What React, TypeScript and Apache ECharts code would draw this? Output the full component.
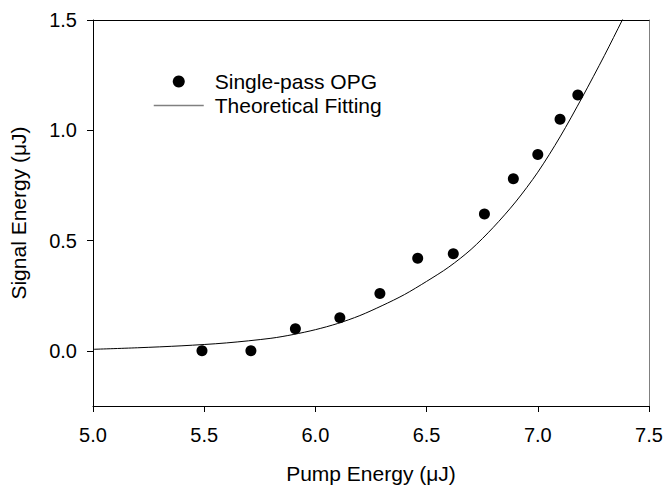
import React, { useEffect, useRef } from "react";
import * as echarts from "echarts";

const pumpEnergy = [5.49, 5.71, 5.91, 6.11, 6.29, 6.46, 6.62, 6.76, 6.89, 7.0, 7.1, 7.18];
const signalEnergy = [0.0, 0.0, 0.1, 0.15, 0.26, 0.42, 0.44, 0.62, 0.78, 0.89, 1.05, 1.16];

const fitX = [5.0, 5.2, 5.4, 5.6, 5.8, 5.9, 6.0, 6.1, 6.2, 6.3, 6.4, 6.5, 6.6, 6.7, 6.8, 6.9, 7.0, 7.1, 7.2, 7.3, 7.38, 7.42];
const fitY = [0.007, 0.014, 0.023, 0.036, 0.057, 0.074, 0.096, 0.124, 0.16, 0.205, 0.255, 0.315, 0.38, 0.46, 0.56, 0.675, 0.81, 0.97, 1.15, 1.34, 1.5, 1.58];

const yTicks = [0, 0.5, 1.0, 1.5];
const xTicks = [5.0, 5.5, 6.0, 6.5, 7.0, 7.5];

const FONT = "Arial, 'Liberation Sans', sans-serif";

export default function App() {
  const ref = useRef<HTMLDivElement>(null);
  useEffect(() => {
    if (!ref.current) return;
    const chart = echarts.init(ref.current, null, { renderer: "svg" });
    chart.setOption({
      animation: false,
      backgroundColor: "#fff",
      textStyle: { fontFamily: FONT, color: "#000" },
      grid: { left: 93, top: 20, right: 17, bottom: 80 },
      legend: {
        orient: "vertical",
        left: 148,
        top: 66,
        itemWidth: 50,
        itemHeight: 12,
        itemGap: 3,
        textStyle: { fontFamily: FONT, fontSize: 21, color: "#000", padding: [0, 0, 0, 6] },
        data: [
          { name: "Single-pass OPG", icon: "circle", itemStyle: { color: "#000", opacity: 1 } },
          {
            name: "Theoretical Fitting",
            lineStyle: { color: "#808080", width: 1.5 },
            itemStyle: { color: "rgba(0,0,0,0)", opacity: 0, borderWidth: 0 },
          },
        ],
      },
      xAxis: [
        {
          type: "value",
          min: 5.0,
          max: 7.5,
          interval: 0.5,
          name: "Pump Energy (\u03bcJ)",
          nameLocation: "middle",
          nameGap: 57,
          nameTextStyle: { fontFamily: FONT, fontSize: 21, color: "#000" },
          axisLine: { onZero: false, lineStyle: { color: "#000", width: 1 } },
          axisTick: { show: true, length: 6, inside: false, lineStyle: { color: "#000" }, customValues: xTicks },
          axisLabel: {
            fontFamily: FONT,
            fontSize: 20,
            color: "#000",
            margin: 19,
            customValues: xTicks,
            formatter: (v: number) => v.toFixed(1),
          },
          splitLine: { show: false },
        },
        {
          type: "value",
          position: "top",
          min: 5.0,
          max: 7.5,
          interval: 0.5,
          axisLine: { show: true, onZero: false, lineStyle: { color: "#000", width: 1 } },
          axisTick: { show: false },
          axisLabel: { show: false },
          splitLine: { show: false },
        },
      ],
      yAxis: [
        {
          type: "value",
          min: -0.25,
          max: 1.5,
          name: "Signal Energy (\u03bcJ)",
          nameLocation: "middle",
          nameGap: 64,
          nameTextStyle: { fontFamily: FONT, fontSize: 21, color: "#000" },
          axisLine: { show: true, onZero: false, lineStyle: { color: "#000", width: 1 } },
          axisTick: { show: true, length: 6, inside: false, lineStyle: { color: "#000" }, customValues: yTicks },
          axisLabel: {
            fontFamily: FONT,
            fontSize: 20,
            color: "#000",
            margin: 16,
            customValues: yTicks,
            formatter: (v: number) => v.toFixed(1),
          },
          splitLine: { show: false },
        },
        {
          type: "value",
          position: "right",
          min: -0.25,
          max: 1.5,
          axisLine: { show: true, onZero: false, lineStyle: { color: "#808080", width: 1 } },
          axisTick: { show: false },
          axisLabel: { show: false },
          splitLine: { show: false },
        },
      ],
      series: [
        {
          name: "Theoretical Fitting",
          type: "line",
          xAxisIndex: 0,
          yAxisIndex: 0,
          data: fitX.map((x, i) => [x, fitY[i]]),
          smooth: 0.3,
          symbol: "none",
          clip: true,
          lineStyle: { color: "#000", width: 1 },
          itemStyle: { color: "#000" },
          z: 2,
        },
        {
          name: "Single-pass OPG",
          type: "scatter",
          xAxisIndex: 0,
          yAxisIndex: 0,
          data: pumpEnergy.map((x, i) => [x, signalEnergy[i]]),
          symbol: "circle",
          symbolSize: 11,
          itemStyle: { color: "#000", opacity: 1 },
          z: 3,
        },
      ],
    });
    return () => chart.dispose();
  }, []);
  return <div ref={ref} style={{ width: 666, height: 489, position: "absolute", left: 0, top: 0 }} />;
}
